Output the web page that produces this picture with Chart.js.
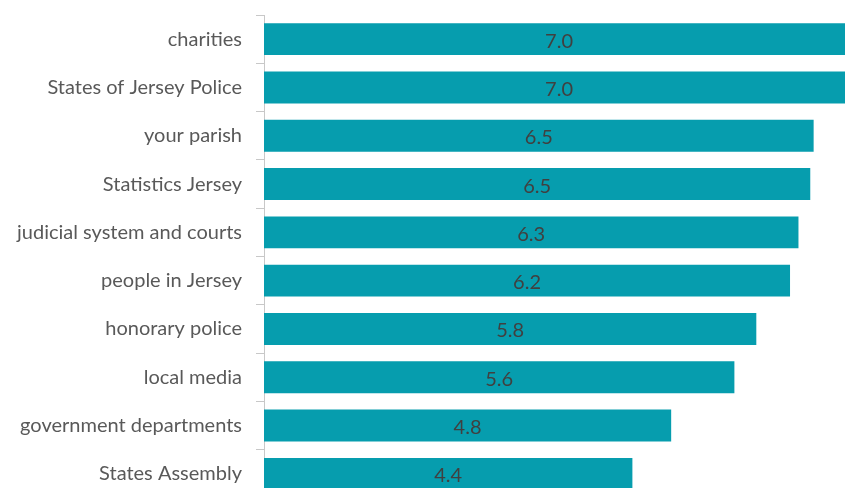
<!DOCTYPE html>
<html>
<head>
<meta charset="utf-8">
<script src="https://cdn.jsdelivr.net/npm/chart.js@4"></script>
<style>
  html, body { margin: 0; padding: 0; background: #fff; overflow: hidden; }
  #wrap { position: relative; width: 845px; height: 488px; overflow: hidden; }
  canvas { position: absolute; left: 0; top: 0; }
</style>
</head>
<body>
<div id="wrap"><canvas id="c" width="900" height="498"></canvas></div>
<script>
const categories = [
  "charities",
  "States of Jersey Police",
  "your parish",
  "Statistics Jersey",
  "judicial system and courts",
  "people in Jersey",
  "honorary police",
  "local media",
  "government departments",
  "States Assembly"
];
const trustScores = [7.0, 7.0, 6.52, 6.48, 6.34, 6.24, 5.84, 5.58, 4.83, 4.37];

const FONT = 'Lato, "Open Sans", sans-serif';

const valueLabels = {
  id: 'valueLabels',
  afterDatasetsDraw(chart) {
    const ctx = chart.ctx;
    const meta = chart.getDatasetMeta(0);
    ctx.save();
    ctx.font = '20px ' + FONT;
    ctx.fillStyle = '#404040';
    ctx.textAlign = 'center';
    ctx.textBaseline = 'middle';
    meta.data.forEach((bar, i) => {
      const cx = (bar.x + bar.base) / 2;
      ctx.fillText(trustScores[i].toFixed(1), cx, bar.y + 2);
    });
    ctx.restore();
  }
};

const chart = new Chart(document.getElementById('c'), {
  type: 'bar',
  data: {
    labels: categories,
    datasets: [{
      data: trustScores,
      backgroundColor: '#069dae',
      borderWidth: 0,
      categoryPercentage: 1.0,
      barPercentage: 0.66
    }]
  },
  options: {
    indexAxis: 'y',
    responsive: false,
    animation: false,
    layout: { padding: { top: 15, left: 0, right: 0, bottom: 0 } },
    plugins: { legend: { display: false }, tooltip: { enabled: false } },
    scales: {
      x: {
        display: false,
        min: 0,
        max: 636 / 84.3
      },
      y: {
        afterFit(axis) { axis.width = 264; axis.paddingTop = 0; axis.paddingBottom = 0; },
        grid: {
          drawOnChartArea: false,
          drawTicks: true,
          tickLength: 8,
          color: '#c8c8c8',
          offset: true
        },
        border: { display: true, color: '#c8c8c8', width: 1 },
        ticks: {
          padding: 14,
          color: '#595959',
          font: { family: FONT, size: 20 }
        }
      }
    }
  },
  plugins: [valueLabels]
});
</script>
</body>
</html>
